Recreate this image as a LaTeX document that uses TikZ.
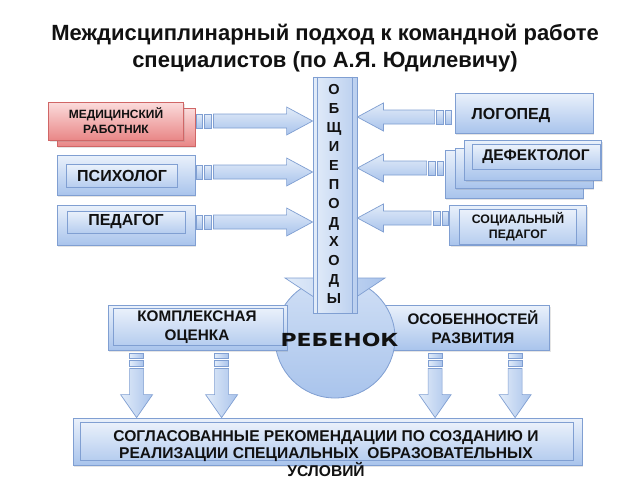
\documentclass[tikz,border=0pt]{standalone}
\usepackage{fontspec}
\usepackage{graphicx}
\setmainfont{Liberation Sans}
\newfontfamily\widefont{DejaVu Sans}
\usetikzlibrary{calc,shadows}
\definecolor{bdr}{HTML}{809FD2}
\definecolor{btop}{HTML}{EAF1FB}
\definecolor{bbot}{HTML}{A9C4EC}
\definecolor{atop}{HTML}{E2ECF9}
\definecolor{abot}{HTML}{A9C3EB}
\definecolor{ptop}{HTML}{FBDCDC}
\definecolor{pbot}{HTML}{E98787}
\definecolor{pbdr}{HTML}{D06666}
\definecolor{txt}{HTML}{111111}
\tikzset{
  bluebox/.style={rectangle, draw=bdr, line width=0.8pt, top color=btop, bottom color=bbot, inner sep=0pt,
     drop shadow={opacity=0.2, shadow xshift=1pt, shadow yshift=-1.5pt}},
  innerbox/.style={rectangle, draw=bdr, line width=0.8pt, top color=btop, bottom color=bbot!85!white, inner sep=0pt},
  pinkbox/.style={rectangle, draw=pbdr, line width=0.8pt, top color=ptop, bottom color=pbot, inner sep=0pt,
     drop shadow={opacity=0.2, shadow xshift=1pt, shadow yshift=-1.5pt}},
  harrow/.style={draw=bdr, line width=0.7pt, top color=atop, bottom color=abot},
  varrow/.style={draw=bdr, line width=0.7pt, left color=atop, right color=abot},
  lbl/.style={font=\bfseries\fontsize{16}{18}\selectfont, text=txt, align=center},
}
% horizontal block arrow: #1 start, #2 end, #3 sign (1 right, -1 left)
\newcommand\harr[3]{%
  \draw[harrow] ($(#1)+(#3*1,-7)$) rectangle ($(#1)+(#3*7,7)$);
  \draw[harrow] ($(#1)+(#3*9,-7)$) rectangle ($(#1)+(#3*16,7)$);
  \draw[harrow] ($(#1)+(#3*18,-7)$) -- ($(#2)+(#3*-26,-7)$) -- ($(#2)+(#3*-26,-14)$) -- (#2)
     -- ($(#2)+(#3*-26,14)$) -- ($(#2)+(#3*-26,7)$) -- ($(#1)+(#3*18,7)$) -- cycle;}
% vertical block arrow down: #1 start, #2 end
\newcommand\varr[2]{%
  \draw[varrow] ($(#1)+(-7,3)$) rectangle ($(#1)+(7,8)$);
  \draw[varrow] ($(#1)+(-7,10)$) rectangle ($(#1)+(7,16)$);
  \draw[varrow] ($(#1)+(-7,18)$) -- ($(#2)+(-7,-23)$) -- ($(#2)+(-16,-23)$) -- (#2)
     -- ($(#2)+(16,-23)$) -- ($(#2)+(7,-23)$) -- ($(#1)+(7,18)$) -- cycle;}
\begin{document}
\begin{tikzpicture}[x=1pt,y=-1pt]
\useasboundingbox[fill=white] (0,0) rectangle (640,480);

% title
\node[font=\bfseries\fontsize{22}{27}\selectfont, text=txt, align=center] (title) at (325,48)
  {Междисциплинарный подход к командной работе\\специалистов (по А.Я. Юдилевичу)};

% left side boxes
\node[pinkbox, minimum width=138, minimum height=38] (medB) at (126,127) {};
\node[pinkbox, minimum width=135, minimum height=38, font=\bfseries\fontsize{12}{15}\selectfont, align=center, text=txt] (med) at (116,121) {МЕДИЦИНСКИЙ\\РАБОТНИК};

\node[bluebox, minimum width=138, minimum height=40] (psyO) at (126,175) {};
\node[innerbox, minimum width=111, minimum height=23, lbl] (psy) at (122,176) {ПСИХОЛОГ};

\node[bluebox, minimum width=138, minimum height=40] (pedO) at (126,225) {};
\node[innerbox, minimum width=118, minimum height=22, lbl] (ped) at (126,222) {ПЕДАГОГ};

% right side boxes
\node[bluebox, minimum width=138, minimum height=40] (logo) at (524,113) {};
\node[lbl] (logoT) at (511,116) {ЛОГОПЕД};

\node[bluebox, minimum width=138, minimum height=48] (def1) at (514,174) {};
\node[bluebox, minimum width=138, minimum height=40] (def2) at (524,168) {};
\node[bluebox, minimum width=137, minimum height=40] (def3) at (533,160) {};
\node[innerbox, minimum width=128, minimum height=25, lbl, font=\bfseries\fontsize{15.5}{18}\selectfont] (def) at (536,157) {ДЕФЕКТОЛОГ};

\node[bluebox, minimum width=137, minimum height=40] (socO) at (518,225) {};
\node[innerbox, minimum width=117, minimum height=35, lbl, font=\bfseries\fontsize{12.3}{15}\selectfont] (soc) at (518,227) {СОЦИАЛЬНЫЙ\\ПЕДАГОГ};

% bottom part
\node[bluebox, minimum width=167, minimum height=45] (osob) at (466,327.5) {};
\node[circle, draw=bdr, line width=0.8pt, top color=btop!60!bbot, bottom color=bbot, minimum size=120] (child) at (335,338) {};
\node[bluebox, minimum width=179, minimum height=45] (kompO) at (197.5,327.5) {};
\node[innerbox, minimum width=170, minimum height=37] (komp) at (198,326.5) {};
\node[lbl, font=\bfseries\fontsize{15.3}{19}\selectfont] (kompT) at (197,327) {КОМПЛЕКСНАЯ\\ОЦЕНКА};
\node[lbl, font=\bfseries\fontsize{15.3}{19}\selectfont] (osobT) at (473,327) {ОСОБЕННОСТЕЙ\\РАЗВИТИЯ};
\node[font=\widefont\bfseries\fontsize{18}{20}\selectfont, text=txt] (childT) at (339.5,340) {\scalebox{1.22}[1]{РЕБЕНОК}};

\node[bluebox, minimum width=509, minimum height=47] (botO) at (327.5,441.5) {};
\node[innerbox, minimum width=493, minimum height=38] (bot) at (326.5,441) {};
\node[lbl, font=\bfseries\fontsize{15.6}{17.5}\selectfont, anchor=north] (botT) at (326,427)
  {СОГЛАСОВАННЫЕ РЕКОМЕНДАЦИИ ПО СОЗДАНИЮ И\\РЕАЛИЗАЦИИ СПЕЦИАЛЬНЫХ \ ОБРАЗОВАТЕЛЬНЫХ\\УСЛОВИЙ};

% central vertical arrow
\coordinate (tip) at (335,311);
\draw[varrow] (285,278) -- (tip) -- (385,278) -- cycle;
\node[rectangle, draw=bdr, line width=0.8pt, left color=atop, right color=abot!80!white, minimum width=44, minimum height=236, inner sep=0pt] (shaft) at (335,195) {};
\draw[bdr, line width=0.6pt] ($(shaft.north west)+(5,0)$) -- ($(shaft.south west)+(5,0)$);
\draw[bdr, line width=0.6pt] ($(shaft.north east)+(-5,0)$) -- ($(shaft.south east)+(-5,0)$);
\node[font=\bfseries\fontsize{14.5}{19}\selectfont, text=txt, align=center] (vtext) at (334,193.5)
  {О\\Б\\Щ\\И\\Е\\П\\О\\Д\\Х\\О\\Д\\Ы};

% horizontal arrows
\coordinate (s1) at (med.east -| medB.east);
\coordinate (e1) at (shaft.west |- s1);
\harr{s1}{e1}{1}
\coordinate (s2) at ($(psyO.east)+(0,-3)$);
\coordinate (e2) at (shaft.west |- s2);
\harr{s2}{e2}{1}
\coordinate (s3) at ($(pedO.east)+(0,-3)$);
\coordinate (e3) at (shaft.west |- s3);
\harr{s3}{e3}{1}

\coordinate (s4) at ($(logo.west)+(-2,4)$);
\coordinate (e4) at (shaft.east |- s4);
\harr{s4}{e4}{-1}
\coordinate (s5) at (def1.west |- def2.west);
\coordinate (e5) at (shaft.east |- s5);
\harr{s5}{e5}{-1}
\coordinate (s6) at ($(socO.west)+(0,-7)$);
\coordinate (e6) at (shaft.east |- s6);
\harr{s6}{e6}{-1}

% down arrows
\coordinate (d1) at ($(kompO.south west)+(29,0)$);
\coordinate (f1) at (d1 |- botO.north);
\varr{d1}{f1}
\coordinate (d2) at ($(kompO.south west)+(114,0)$);
\coordinate (f2) at (d2 |- botO.north);
\varr{d2}{f2}
\coordinate (d3) at ($(osob.south west)+(53,0)$);
\coordinate (f3) at (d3 |- botO.north);
\varr{d3}{f3}
\coordinate (d4) at ($(osob.south west)+(133,0)$);
\coordinate (f4) at (d4 |- botO.north);
\varr{d4}{f4}
\end{tikzpicture}
\end{document}
